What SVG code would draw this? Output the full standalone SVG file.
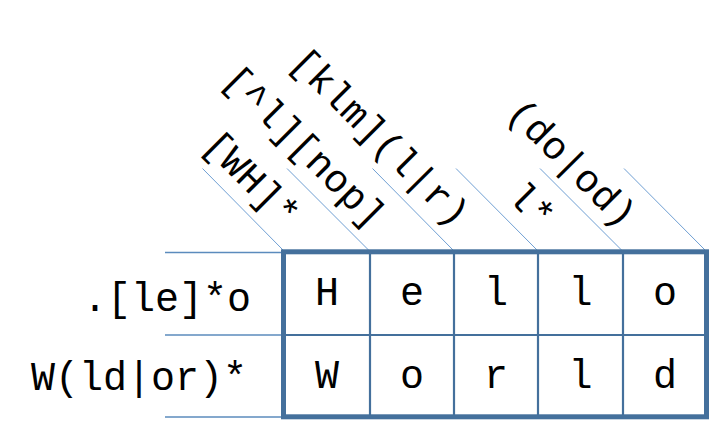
<svg xmlns="http://www.w3.org/2000/svg" width="710" height="429" viewBox="0 0 710 429">
  <style>
    .t { font-family: "Liberation Mono", "Courier New", monospace; fill: #000; }
    .cell { font-size: 40px; text-anchor: middle; }
    .row { font-size: 40px; text-anchor: end; }
    .col { font-size: 39px; text-anchor: end; }
    .diag { stroke: #6f9fd3; stroke-width: 1; fill: none; }
    .lead { stroke: #5b8bbd; stroke-width: 1.5; fill: none; }
    .grid { stroke: #44709c; stroke-width: 2.2; fill: none; }
    .frame { stroke: #44709c; stroke-width: 5; fill: none; }
  </style>
  <rect width="710" height="429" fill="#ffffff"/>

  <g id="connectors">
    <line class="lead" x1="165" y1="252.5" x2="283" y2="252.5"/>
    <line class="lead" x1="165" y1="335" x2="283" y2="335"/>
    <line class="lead" x1="165" y1="417" x2="283" y2="417"/>
    <line class="diag" x1="202.5" y1="168.5" x2="283" y2="250"/>
    <line class="diag" x1="287" y1="168.5" x2="368.5" y2="250"/>
    <line class="diag" x1="372.5" y1="168.5" x2="453" y2="250"/>
    <line class="diag" x1="456" y1="168.5" x2="537" y2="250"/>
    <line class="diag" x1="540" y1="168.5" x2="621.5" y2="250"/>
    <line class="diag" x1="624" y1="168.5" x2="705" y2="250"/>
  </g>

  <g id="grid">
    <line class="grid" x1="370" y1="252" x2="370" y2="417"/>
    <line class="grid" x1="454" y1="252" x2="454" y2="417"/>
    <line class="grid" x1="538" y1="252" x2="538" y2="417"/>
    <line class="grid" x1="623" y1="252" x2="623" y2="417"/>
    <line class="grid" x1="283.5" y1="335" x2="706.5" y2="335"/>
    <rect class="frame" x="283.5" y="251.8" width="423" height="165"/>
  </g>

  <g id="row-labels">
    <text id="row1" class="t row" x="251" y="311">.[le]*o</text>
    <text id="row2" class="t row" x="247" y="390">W(ld|or)*</text>
  </g>

  <g id="col-labels">
    <text id="col1" class="t col" transform="translate(284,229) rotate(45)">[WH]*</text>
    <text id="col2" class="t col" transform="translate(370,230) rotate(45)">[^l][nop]</text>
    <text id="col3" class="t col" transform="translate(454,229) rotate(45)">[klm](l|r)</text>
    <text id="col4" class="t col" transform="translate(539,231) rotate(45)">l*</text>
    <text id="col5" class="t col" transform="translate(621,230) rotate(45)">(do|od)</text>
  </g>

  <g id="cells">
    <text id="c11" class="t cell" x="327" y="305">H</text>
    <text id="c12" class="t cell" x="412" y="305">e</text>
    <text id="c13" class="t cell" x="496" y="305">l</text>
    <text id="c14" class="t cell" x="580.5" y="305">l</text>
    <text id="c15" class="t cell" x="665" y="305">o</text>
    <text id="c21" class="t cell" x="327" y="388">W</text>
    <text id="c22" class="t cell" x="412" y="388">o</text>
    <text id="c23" class="t cell" x="496" y="388">r</text>
    <text id="c24" class="t cell" x="580.5" y="388">l</text>
    <text id="c25" class="t cell" x="665" y="388">d</text>
  </g>
</svg>
